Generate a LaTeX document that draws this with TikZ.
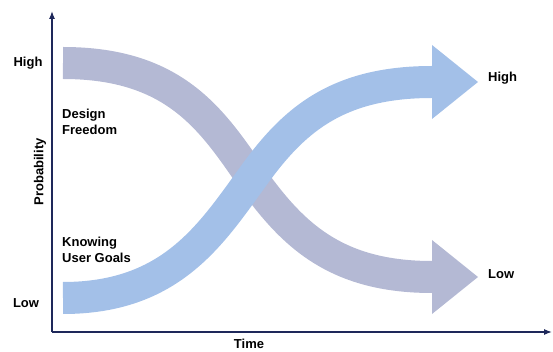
\documentclass[tikz,border=0pt]{standalone}
\usepackage{fontspec}
\setmainfont{Liberation Sans}
\usetikzlibrary{arrows.meta,calc}
\definecolor{axisnavy}{RGB}{30,40,90}
\definecolor{freedomgray}{RGB}{180,185,212}
\definecolor{goalblue}{RGB}{163,192,232}
\tikzset{
  lbl/.style={font=\bfseries\fontsize{13}{15.5}\selectfont, text=black, inner sep=0pt},
  band/.style={line width=32pt, line cap=butt},
}
\begin{document}
\begin{tikzpicture}[x=1pt,y=-1pt]
  \useasboundingbox (0,0) rectangle (553,352);
  % axes
  \coordinate (o) at (52,332);
  \coordinate (ytop) at (52,11);
  \coordinate (xend) at (552,332);
  \draw[axisnavy, line width=1.2pt, -{Latex[length=8pt,width=6pt]}] (o) -- (ytop);
  \draw[axisnavy, line width=1.2pt, -{Latex[length=8pt,width=6pt]}] (o) -- (xend);
  % design freedom band
  \coordinate (gStart) at (63,63);
  \coordinate (gMid) at (252,178);
  \coordinate (gEnd) at (432,277);
  \draw[band, freedomgray] (gStart) .. controls (175,63) and (212,120) .. (gMid)
    .. controls (292,234) and (335,277) .. (gEnd) -- ++(4,0);
  \fill[freedomgray] ($(gEnd)+(0,-37)$) -- ($(gEnd)+(46,0)$) -- ($(gEnd)+(0,37)$) -- cycle;
  % user goals band
  \coordinate (bStart) at (63,298);
  \coordinate (bMid) at (252,178);
  \coordinate (bEnd) at (432,82);
  \draw[band, goalblue] (bStart) .. controls (170,298) and (210,236) .. (bMid)
    .. controls (292,122) and (335,82) .. (bEnd) -- ++(4,0);
  \fill[goalblue] ($(bEnd)+(0,-37)$) -- ($(bEnd)+(46,0)$) -- ($(bEnd)+(0,37)$) -- cycle;
  % labels
  \node[lbl, anchor=base] (hiY) at (28,67) {High};
  \node[lbl, anchor=base] (loY) at (26,307) {Low};
  \node[lbl, anchor=west, align=left] (dfLbl) at (62,122) {Design\\Freedom};
  \node[lbl, anchor=west, align=left] (kgLbl) at (62,250) {Knowing\\User Goals};
  \node[lbl, rotate=90] (pLbl) at (40,172) {Probability};
  \node[lbl, anchor=base] (tLbl) at (249,348) {Time};
  \node[lbl, anchor=base west] (hiR) at (488,82) {High};
  \node[lbl, anchor=base west] (loR) at (488,278) {Low};
\end{tikzpicture}
\end{document}
